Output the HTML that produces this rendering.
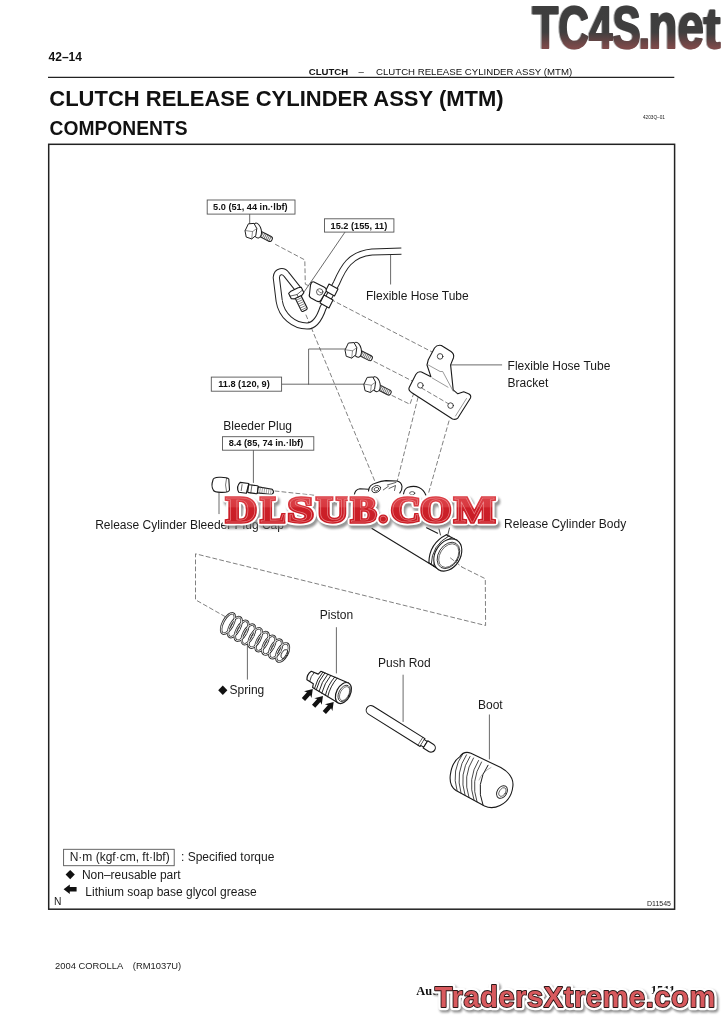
<!DOCTYPE html>
<html><head><meta charset="utf-8">
<style>
html,body{margin:0;padding:0;background:#fff;}
body{width:724px;height:1024px;overflow:hidden;position:relative;font-family:"Liberation Sans",sans-serif;}
svg{position:absolute;left:0;top:0;will-change:transform;}
</style></head>
<body>
<svg width="724" height="1024" viewBox="0 0 724 1024" font-family="Liberation Sans, sans-serif">
<defs>
<linearGradient id="tcg" x1="0" y1="0" x2="0" y2="1">
<stop offset="0" stop-color="#3c3c3c"/><stop offset="0.62" stop-color="#3e3c3c"/><stop offset="1" stop-color="#8a4a4a"/>
</linearGradient>
</defs>
<!-- header -->
<text x="48.6" y="61" font-size="12" font-weight="bold" fill="#111">42–14</text>
<text x="308.8" y="75.2" font-size="9.6" font-weight="bold" fill="#111">CLUTCH</text>
<text x="358.5" y="75.2" font-size="9.6" fill="#111">–</text>
<text x="376" y="75.2" font-size="9.63" fill="#111">CLUTCH RELEASE CYLINDER ASSY (MTM)</text>
<line x1="48" y1="77.4" x2="674.3" y2="77.4" stroke="#222" stroke-width="1.4"/>
<text x="49.3" y="106" font-size="22" font-weight="bold" fill="#111" textLength="454.3" lengthAdjust="spacingAndGlyphs">CLUTCH RELEASE CYLINDER ASSY (MTM)</text>
<text x="49.5" y="134.6" font-size="19.3" font-weight="bold" fill="#111" textLength="138" lengthAdjust="spacingAndGlyphs">COMPONENTS</text>
<text x="643" y="118.8" font-size="4.7" fill="#222">4203Q–01</text>
<!-- frame -->
<rect x="48.7" y="144.3" width="625.9" height="764.9" fill="none" stroke="#222" stroke-width="1.5"/>
<text x="54" y="905" font-size="10.3" fill="#222">N</text>
<text x="647" y="905.6" font-size="7" fill="#222">D11545</text>


<!-- ===== DIAGRAM ===== -->
<defs>
<g id="bolt">
  <g transform="translate(6.5,1.6) rotate(27)">
    <rect x="0" y="-2.6" width="16" height="5.2" rx="2.2" fill="#fff" stroke="#1e1e1e" stroke-width="1"/>
    <path d="M3,-2.6v5.2M4.8,-2.6v5.2M6.6,-2.6v5.2M8.4,-2.6v5.2M10.2,-2.6v5.2M12,-2.6v5.2M13.8,-2.6v5.2" stroke="#444" stroke-width="0.7"/>
  </g>
  <ellipse cx="5.8" cy="-0.4" rx="4.3" ry="7.6" transform="rotate(-12 5.8 -0.4)" fill="#fff" stroke="#1e1e1e" stroke-width="1"/>
  <path d="M-6,-0.5 L-2.8,-7.2 L2.8,-7.6 L5.6,-2.5 L4.6,4.6 L0.5,7.9 L-4.6,6.2 Z" fill="#fff" stroke="#1e1e1e" stroke-width="1" stroke-linejoin="round"/>
  <path d="M5.6,-2.5 L1.3,0.6 L0.5,7.9 M1.3,0.6 L-6,-0.5" fill="none" stroke="#444" stroke-width="0.6"/>
</g>
</defs>
<g fill="none" stroke="#1a1a1a" stroke-width="1.1" stroke-linejoin="round" stroke-linecap="round">
<!-- dashed lines -->
<g stroke="#555" stroke-width="0.75" stroke-dasharray="4 3">
  <path d="M275.5,244.4 L304.8,259.9 L305.3,284.2 L312.5,287.5"/>
  <path d="M306,315 L376,484"/>
  <path d="M331,299.5 L436,354"/>
  <path d="M374,361.4 L415.2,382.5"/>
  <path d="M392,395.5 L410,404.3 L415.5,388"/>
  <path d="M418,397.5 L397,482"/>
  <path d="M449,421 L428,495"/>
  <path d="M275,491 L330,497"/>
  <path d="M461.8,567 L485.3,578.7 L485.6,625.5 L195.5,553.8 L195.5,599.8 L224.6,616.3"/>
</g>
<!-- leader lines -->
<g stroke="#444" stroke-width="0.8">
  <path d="M249.7,214.1 V224.5"/>
  <path d="M345,232.1 L304.2,291.8"/>
  <path d="M390.6,254.9 V284.1"/>
  <path d="M281.6,384.2 H364 M308.6,384.2 V349 H346"/>
  <path d="M451.2,364.9 H501.7"/>
  <path d="M253.4,450.2 V482.5"/>
  <path d="M219,491 V513.7"/>
  <path d="M247.4,643.9 V679.2"/>
  <path d="M336.4,627.6 V673"/>
  <path d="M403.1,675.1 V721.5"/>
  <path d="M489.4,714.9 V759"/>
</g>
<!-- tube (double line) -->
<path id="tubec" d="M298,289 L286.5,274.5 C283.5,270.3 277,270.5 276.3,277.5 L279.2,301 C281.5,316 294,326 307,326 C314,326 319,320 323,308 L336.5,283 C343,268 350,254 372,252 L401.4,251.2" stroke="#222" stroke-width="7.2" stroke-linecap="butt"/>
<path d="M298,289 L286.5,274.5 C283.5,270.3 277,270.5 276.3,277.5 L279.2,301 C281.5,316 294,326 307,326 C314,326 319,320 323,308 L336.5,283 C343,268 350,254 372,252 L402,251.2" stroke="#fff" stroke-width="5.2" stroke-linecap="butt"/>
<!-- sleeves on tube -->
<path d="M329,284 L338,289 L334.5,296 L325.5,291 Z" fill="#fff"/>
<path d="M324,295 L333,300 L329,308 L320,303 Z" fill="#fff"/>
<!-- clip -->
<path d="M314,282 L324,287 Q327,288.5 326,291.5 L321,300 Q319.5,302.5 316.5,301 L311,298 Q308.5,296.5 309.5,294 L310.5,285 Q311.5,281 314,282 Z" fill="#fff"/>
<circle cx="319.7" cy="291.9" r="3.2" stroke-width="0.7"/>
<path d="M318,290.5 Q320,293.5 321.5,293" stroke-width="0.6"/>
<!-- fitting nut + thread -->
<g transform="translate(296.5,293.5) rotate(64)">
  <rect x="3" y="-3.2" width="16" height="6.4" rx="1.5" fill="#fff"/>
  <path d="M6,-3.2v6.4M8.2,-3.2v6.4M10.4,-3.2v6.4M12.6,-3.2v6.4M14.8,-3.2v6.4M17,-3.2v6.4" stroke="#444" stroke-width="0.6"/>
  <path d="M-3.5,-7 L2.5,-7 L4,-4 L4,4 L2.5,7 L-3.5,7 L-4.5,4 L-4.5,-4 Z" fill="#fff"/>
  <path d="M-0.5,-7 L1.2,0 L-0.5,7 M1.2,0 L4,0" stroke-width="0.6"/>
</g>
<!-- bolts -->
<use href="#bolt" transform="translate(251.2,231)"/>
<use href="#bolt" transform="translate(351.2,350.2)"/>
<use href="#bolt" transform="translate(370,384.6)"/>
<!-- bracket -->
<path d="M428.3,359.7 L434.5,348 Q437,344.6 441.4,345.5 L451,351.5 Q454.5,354 453.5,357.7 L450.6,364.9 L453.2,389.9 L457.8,393.8 L463.7,391.8 L468.5,393.7 Q471.5,395 470.5,398 L458,417.8 Q456,420.2 452.5,419 L411.5,392.5 Q408,390 409.2,387.5 L415.8,374.5 Q418,371 421.5,372 L430.9,376.7 L427,365 Z" fill="#fff"/>
<path d="M428.3,365 L440.1,371.5 L442.7,371.5 L453.2,391.2 M432.2,378 L448,387.2 M466.5,398.5 L455.5,416" stroke-width="0.6" stroke="#555"/>
<path d="M421.5,388 L448,403.5" stroke="#555" stroke-width="0.75" stroke-dasharray="4 3"/>
<circle cx="440.1" cy="356.4" r="2.8" stroke-width="0.8"/>
<circle cx="420.4" cy="385.3" r="2.8" stroke-width="0.8"/>
<circle cx="450.6" cy="405.6" r="2.8" stroke-width="0.8"/>
<!-- bleeder cap -->
<path d="M213,480 Q213,477.5 219,477.3 Q227,477 228.8,479 L229.5,490 Q229,492.6 221,492.4 Q214,492.3 213.3,490 Q210.8,486 213,480 Z" fill="#fff"/>
<path d="M226.5,478.3 Q224.5,485 226.5,491.6" stroke-width="0.6"/>
<!-- bleeder plug -->
<g transform="translate(239.5,487.3) rotate(8) scale(1.09,1)">
  <path d="M0,-5 Q-3.5,0 0,5 L7,5 L8,-5 Z" fill="#fff"/>
  <rect x="8" y="-4" width="9" height="8" rx="1" fill="#fff"/>
  <path d="M17,-3 L30,-2.6 Q33,0 30,2.6 L17,3 Z" fill="#fff"/>
  <path d="M19,-3v6M21,-3v6M23,-3v6M25,-2.8v5.6M27,-2.7v5.4M29,-2.6v5.2" stroke="#555" stroke-width="0.5"/>
  <path d="M2,-3 L2,3 M11,-4 L11,4" stroke-width="0.6"/>
</g>
<!-- cylinder body top outline -->
<path d="M354.3,495 Q355,489.5 360,488.8 L368.5,489.2" fill="#fff"/>
<path d="M368.5,491 Q369,484.5 376,483 Q381,481 386,480.6 L397,481 Q401.5,482 402,486.5 Q402.2,490.5 399.8,493" fill="#fff"/>
<ellipse cx="376.2" cy="489" rx="4.6" ry="3.3" transform="rotate(-22 376.2 489)" stroke-width="0.8"/>
<ellipse cx="376.4" cy="489.2" rx="2.4" ry="1.7" transform="rotate(-22 376.4 489.2)" stroke-width="0.7"/>
<path d="M383.3,489.9 L388.5,486.2 M387.3,485 L396,482.4 M389,488.5 L395.5,485.5 L394.5,490.5" stroke-width="0.7"/>
<path d="M403.5,494 Q404.5,488.5 408,487.3 Q414,485.3 419,487.5 Q424,490 425.8,495" fill="#fff"/>
<ellipse cx="412.2" cy="493.2" rx="2.6" ry="1.6" stroke-width="0.7"/>
<!-- cylinder body lower -->
<path d="M372,528.5 L436,567.5"/>
<path d="M426.6,527.7 L437.6,533.3"/>
<path d="M439,529 L440.5,535 M449.5,528 L447.5,536" stroke-width="0.8"/>
<g transform="translate(447.8,555) rotate(32)">
  <path d="M-12,-16.5 Q-22,0 -12,16.5" fill="#fff"/>
  <path d="M-9,-17 Q-19,0 -9,17 M-6,-17 Q-16,0 -6,17" stroke-width="0.8"/>
  <path d="M-3,-17 Q-13,0 -3,17" stroke-width="0.8"/>
  <path d="M-12,-16.5 L0,-17.3 M-12,16.5 L0,17.3"/>
  <ellipse cx="0" cy="0" rx="12.5" ry="17.3" fill="#fff"/>
  <ellipse cx="0.8" cy="0" rx="10" ry="14.2" stroke-width="0.8"/>
  <ellipse cx="1.2" cy="0" rx="8.8" ry="12.8" stroke-width="0.6"/>
</g>
<path d="M450.5,558 L462,567" stroke="#555" stroke-width="0.75" stroke-dasharray="4 3"/>
<!-- spring -->
<g stroke="#2a2a2a" stroke-width="2.4" fill="none">
<ellipse cx="228.0" cy="623.5" rx="5" ry="11.3" transform="rotate(28 228.0 623.5)"/>
<ellipse cx="234.8" cy="627.1" rx="5" ry="11.1" transform="rotate(28 234.8 627.1)"/>
<ellipse cx="241.6" cy="630.8" rx="5" ry="11.0" transform="rotate(28 241.6 630.8)"/>
<ellipse cx="248.4" cy="634.4" rx="5" ry="10.8" transform="rotate(28 248.4 634.4)"/>
<ellipse cx="255.2" cy="638.0" rx="5" ry="10.7" transform="rotate(28 255.2 638.0)"/>
<ellipse cx="262.1" cy="641.6" rx="5" ry="10.5" transform="rotate(28 262.1 641.6)"/>
<ellipse cx="268.9" cy="645.2" rx="5" ry="10.3" transform="rotate(28 268.9 645.2)"/>
<ellipse cx="275.7" cy="648.9" rx="5" ry="10.2" transform="rotate(28 275.7 648.9)"/>
<ellipse cx="282.5" cy="652.5" rx="5" ry="10.0" transform="rotate(28 282.5 652.5)"/>
</g>
<g stroke="#fff" stroke-width="0.8" fill="none">
<ellipse cx="228.0" cy="623.5" rx="5" ry="11.3" transform="rotate(28 228.0 623.5)"/>
<ellipse cx="234.8" cy="627.1" rx="5" ry="11.1" transform="rotate(28 234.8 627.1)"/>
<ellipse cx="241.6" cy="630.8" rx="5" ry="11.0" transform="rotate(28 241.6 630.8)"/>
<ellipse cx="248.4" cy="634.4" rx="5" ry="10.8" transform="rotate(28 248.4 634.4)"/>
<ellipse cx="255.2" cy="638.0" rx="5" ry="10.7" transform="rotate(28 255.2 638.0)"/>
<ellipse cx="262.1" cy="641.6" rx="5" ry="10.5" transform="rotate(28 262.1 641.6)"/>
<ellipse cx="268.9" cy="645.2" rx="5" ry="10.3" transform="rotate(28 268.9 645.2)"/>
<ellipse cx="275.7" cy="648.9" rx="5" ry="10.2" transform="rotate(28 275.7 648.9)"/>
<ellipse cx="282.5" cy="652.5" rx="5" ry="10.0" transform="rotate(28 282.5 652.5)"/>
</g>
<ellipse cx="284.5" cy="654" rx="2.8" ry="4.8" transform="rotate(28 284.5 654)" stroke-width="0.8"/>
<!-- piston -->
<g transform="translate(311,676.5) rotate(27) scale(1.07)">
  <path d="M-2,-4.5 L5,-5 L6,-8.5 L34,-10.5 L34,10.5 L6,8.5 L5,5 L-2,4.5 Q-4.5,0 -2,-4.5 Z" fill="#fff"/>
  <path d="M1,-4.8 Q-0.5,0 1,4.8" stroke-width="0.7"/>
  <path d="M8,-8.7 Q6,0 8,8.7 M10,-8.8 Q8,0 10,8.8 M13,-9 Q11,0 13,9 M16,-9.3 Q14,0 16,9.3 M20,-9.6 Q17.5,0 20,9.6 M22.5,-9.8 Q20,0 22.5,9.8" stroke-width="0.8"/>
  <ellipse cx="34" cy="0" rx="6.5" ry="10.5" fill="#fff"/>
  <ellipse cx="34.8" cy="0" rx="5" ry="8.2" stroke-width="0.7"/>
  <ellipse cx="35.2" cy="0" rx="4" ry="7" stroke-width="0.5"/>
</g>
<!-- push rod -->
<g transform="translate(370.8,710.2) rotate(32)">
  <path d="M0,-4.6 L61,-4.6 L61,4.6 L0,4.6 A4.6,4.6 0 0 1 0,-4.6 Z" fill="#fff"/>
  <path d="M61,-3.4 L64.5,-3.4 L64.5,3.4 L61,3.4" fill="#fff"/>
  <path d="M64.5,-4.3 L71,-4.3 A4.3,4.3 0 0 1 71,4.3 L64.5,4.3 Z" fill="#fff"/>
  <path d="M58.5,-4.6 L58.5,4.6" stroke-width="0.6"/>
</g>
<!-- boot -->
<path d="M459.9,756.6 Q464,750.5 471,753.2 L500.8,767.6 Q514,775 512.9,786 Q511.5,800 500,805.5 Q492,809.5 484.5,806 L456,790.5 Q449,786 450.3,775 Q452,762 459.9,756.6 Z" fill="#fff"/>
<g stroke-width="0.8">
<path d="M463,753.5 Q451,770 457,790.5"/>
<path d="M466.5,754.8 Q455,772 461,793"/>
<path d="M470,756.5 Q458.5,774 465,795"/>
<path d="M473.5,758 Q462,776 469,797.5"/>
<path d="M478.5,760.5 Q467,779 474,800"/>
<path d="M481.5,762 Q470,781 477,801.8"/>
</g>
<path d="M488,765.2 Q475,784 483,805" stroke-width="1"/>
<path d="M491,767.5 Q482,772 479,780" stroke-width="0.5" stroke="#666"/>
<ellipse cx="502" cy="792" rx="4.8" ry="6.8" transform="rotate(32 502 792)" stroke-width="0.9"/>
<ellipse cx="502.5" cy="792" rx="3" ry="4.8" transform="rotate(32 502.5 792)" stroke-width="0.6"/>
</g>
<!-- arrows (lithium grease) -->
<g fill="#111">
  <path d="M0,0 L-7.5,-5 L-6.3,-2.2 L-14,-2.2 L-14,2.2 L-6.3,2.2 L-7.5,5 Z" transform="translate(312.8,689) rotate(-48)"/>
  <path d="M0,0 L-7.5,-5 L-6.3,-2.2 L-14,-2.2 L-14,2.2 L-6.3,2.2 L-7.5,5 Z" transform="translate(323,695.9) rotate(-48)"/>
  <path d="M0,0 L-7.5,-5 L-6.3,-2.2 L-14,-2.2 L-14,2.2 L-6.3,2.2 L-7.5,5 Z" transform="translate(333.7,702.1) rotate(-48)"/>
</g>
<!-- torque label boxes -->
<g fill="#fff" stroke="#555" stroke-width="0.9">
  <rect x="207.2" y="200" width="87.8" height="14.1"/>
  <rect x="324.5" y="218.8" width="69.4" height="13.3"/>
  <rect x="211.3" y="377.1" width="70.3" height="14.1"/>
  <rect x="222.5" y="436.7" width="91.3" height="13.5"/>
</g>
<g font-size="9.2" font-weight="bold" fill="#111">
  <text x="213.1" y="209.5">5.0 (51, 44 in.·lbf)</text>
  <text x="330.6" y="228.6">15.2 (155, 11)</text>
  <text x="218.2" y="386.9">11.8 (120, 9)</text>
  <text x="228.7" y="446.4">8.4 (85, 74 in.·lbf)</text>
</g>
<g font-size="12" fill="#1a1a1a">
  <text x="366" y="300">Flexible Hose Tube</text>
  <text x="507.6" y="369.8">Flexible Hose Tube</text>
  <text x="507.6" y="386.5">Bracket</text>
  <text x="223.3" y="429.9">Bleeder Plug</text>
  <text x="95.2" y="528.8">Release Cylinder Bleeder Plug Cap</text>
  <text x="504.1" y="527.8">Release Cylinder Body</text>
  <text x="319.8" y="618.8">Piston</text>
  <text x="378" y="666.7">Push Rod</text>
  <text x="229.6" y="694.3">Spring</text>
  <text x="478" y="708.6">Boot</text>
</g>
<path d="M222.8,685.6 L227.4,690.3 L222.8,695 L218.2,690.3 Z" fill="#111"/>
<!-- legend -->
<rect x="63.6" y="849.3" width="110.6" height="16.4" fill="none" stroke="#555" stroke-width="0.9"/>
<g font-size="12" fill="#1a1a1a">
  <text x="69.7" y="860.6">N·m (kgf·cm, ft·lbf)</text>
  <text x="181" y="860.6">: Specified torque</text>
  <text x="81.9" y="879.1">Non–reusable part</text>
  <text x="85.3" y="895.5">Lithium soap base glycol grease</text>
</g>
<path d="M70.2,870 L74.8,874.6 L70.2,879.2 L65.6,874.6 Z" fill="#111"/>
<path d="M63.6,889.2 L69.8,884.6 L69.8,887 L76.6,887 L76.6,891.6 L69.8,891.6 L69.8,894 Z" fill="#111"/>

<!-- footer -->
<text x="55" y="968.8" font-size="9.4" fill="#222">2004 COROLLA</text>
<text x="132.8" y="968.8" font-size="9.4" fill="#222">(RM1037U)</text>

<!-- footer right -->
<text x="416.3" y="994.8" font-family="Liberation Serif" font-weight="bold" font-size="12.4" fill="#111">Author</text>
<text x="650.8" y="993.6" font-family="Liberation Serif" font-weight="bold" font-size="12.6" fill="#111">1511</text>
<!-- watermark DLSUB -->
<defs>
<linearGradient id="redg" gradientUnits="userSpaceOnUse" x1="0" y1="-27" x2="0" y2="0">
<stop offset="0" stop-color="#dc4249"/><stop offset="0.42" stop-color="#d8383f"/><stop offset="0.48" stop-color="#cc1f28"/><stop offset="1" stop-color="#c91d25"/>
</linearGradient>
<filter id="blur1" x="-10%" y="-30%" width="120%" height="160%"><feGaussianBlur stdDeviation="1.2"/></filter>
<linearGradient id="tcg2" gradientUnits="userSpaceOnUse" x1="0" y1="-41" x2="0" y2="0">
<stop offset="0" stop-color="#3e3e3e"/><stop offset="0.62" stop-color="#403f3f"/><stop offset="1" stop-color="#7e4a4a"/>
</linearGradient>
</defs>
<!-- watermark DLSUB -->
<g font-family="Liberation Serif" font-weight="bold" font-size="36">
<g fill="#6a6a6a" stroke="#6a6a6a" stroke-width="7.5" stroke-linejoin="round" filter="url(#blur1)" opacity="0.7">
<text transform="translate(227.87,524.90) scale(1.192,1)">D</text>
<text transform="translate(262.35,524.90) scale(1.064,1)">L</text>
<text transform="translate(289.22,524.90) scale(1.307,1)">S</text>
<text transform="translate(318.00,524.90) scale(1.243,1)">U</text>
<text transform="translate(352.49,524.90) scale(1.077,1)">B</text>
<text transform="translate(380.22,524.90) scale(1.050,1)">.</text>
<text transform="translate(392.53,524.90) scale(1.165,1)">C</text>
<text transform="translate(422.04,524.90) scale(1.112,1)">O</text>
<text transform="translate(456.01,524.90) scale(1.206,1)">M</text>
</g>
<g transform="translate(226.07,522.10) scale(1.192,1)"><text fill="#fff" stroke="#fff" stroke-width="7" stroke-linejoin="round">D</text><text fill="url(#redg)" stroke="url(#redg)" stroke-width="3.4">D</text><text fill="none" stroke="#ef9296" stroke-width="0.6" opacity="0.85">D</text></g>
<g transform="translate(260.55,522.10) scale(1.064,1)"><text fill="#fff" stroke="#fff" stroke-width="7" stroke-linejoin="round">L</text><text fill="url(#redg)" stroke="url(#redg)" stroke-width="3.4">L</text><text fill="none" stroke="#ef9296" stroke-width="0.6" opacity="0.85">L</text></g>
<g transform="translate(287.42,522.10) scale(1.307,1)"><text fill="#fff" stroke="#fff" stroke-width="7" stroke-linejoin="round">S</text><text fill="url(#redg)" stroke="url(#redg)" stroke-width="3.4">S</text><text fill="none" stroke="#ef9296" stroke-width="0.6" opacity="0.85">S</text></g>
<g transform="translate(316.20,522.10) scale(1.243,1)"><text fill="#fff" stroke="#fff" stroke-width="7" stroke-linejoin="round">U</text><text fill="url(#redg)" stroke="url(#redg)" stroke-width="3.4">U</text><text fill="none" stroke="#ef9296" stroke-width="0.6" opacity="0.85">U</text></g>
<g transform="translate(350.69,522.10) scale(1.077,1)"><text fill="#fff" stroke="#fff" stroke-width="7" stroke-linejoin="round">B</text><text fill="url(#redg)" stroke="url(#redg)" stroke-width="3.4">B</text><text fill="none" stroke="#ef9296" stroke-width="0.6" opacity="0.85">B</text></g>
<g transform="translate(378.42,522.10) scale(1.050,1)"><text fill="#fff" stroke="#fff" stroke-width="7" stroke-linejoin="round">.</text><text fill="url(#redg)" stroke="url(#redg)" stroke-width="3.4">.</text><text fill="none" stroke="#ef9296" stroke-width="0.6" opacity="0.85">.</text></g>
<g transform="translate(390.73,522.10) scale(1.165,1)"><text fill="#fff" stroke="#fff" stroke-width="7" stroke-linejoin="round">C</text><text fill="url(#redg)" stroke="url(#redg)" stroke-width="3.4">C</text><text fill="none" stroke="#ef9296" stroke-width="0.6" opacity="0.85">C</text></g>
<g transform="translate(420.24,522.10) scale(1.112,1)"><text fill="#fff" stroke="#fff" stroke-width="7" stroke-linejoin="round">O</text><text fill="url(#redg)" stroke="url(#redg)" stroke-width="3.4">O</text><text fill="none" stroke="#ef9296" stroke-width="0.6" opacity="0.85">O</text></g>
<g transform="translate(454.21,522.10) scale(1.206,1)"><text fill="#fff" stroke="#fff" stroke-width="7" stroke-linejoin="round">M</text><text fill="url(#redg)" stroke="url(#redg)" stroke-width="3.4">M</text><text fill="none" stroke="#ef9296" stroke-width="0.6" opacity="0.85">M</text></g>
</g>
<!-- watermark TradersXtreme -->
<g font-family="Liberation Sans" font-weight="bold" font-size="29" letter-spacing="0.6" transform="translate(434.8,1006.8)">
  <text x="1.5" y="2.5" fill="#777" stroke="#777" stroke-width="7" stroke-linejoin="round" filter="url(#blur1)" opacity="0.8">TradersXtreme.com</text>
  <text x="0" y="0" fill="#fff" stroke="#fff" stroke-width="6.5" stroke-linejoin="round">TradersXtreme.com</text>
  <text x="0" y="0" fill="#d85a5e" stroke="#2a1515" stroke-width="1.8" stroke-linejoin="round" paint-order="stroke">TradersXtreme.com</text>
</g>
<!-- watermark TC4S -->
<g font-family="Liberation Sans" font-weight="bold" fill="url(#tcg2)" stroke="url(#tcg2)" stroke-width="2" stroke-linejoin="round">
  <g transform="translate(532.4,47.7) scale(0.72,1)" font-size="59"><text x="-1.5" y="0" fill="#b0b0b0" stroke="#b0b0b0">TC4S</text><text>TC4S</text></g>
  <g transform="translate(638.6,47.7) scale(0.72,1)" font-size="59"><text x="-1.5" y="0" fill="#b0b0b0" stroke="#b0b0b0">.</text><text>.</text></g>
  <g transform="translate(648.5,47.7) scale(0.74,1)" font-size="64.4"><text x="-1.5" y="0" fill="#b0b0b0" stroke="#b0b0b0">ne</text><text>ne</text></g>
  <g transform="translate(703.6,47.7) scale(0.8,0.89)" font-size="64.4"><text x="-1.5" y="0" fill="#b0b0b0" stroke="#b0b0b0">t</text><text>t</text></g>
</g>
</svg>
</body></html>
